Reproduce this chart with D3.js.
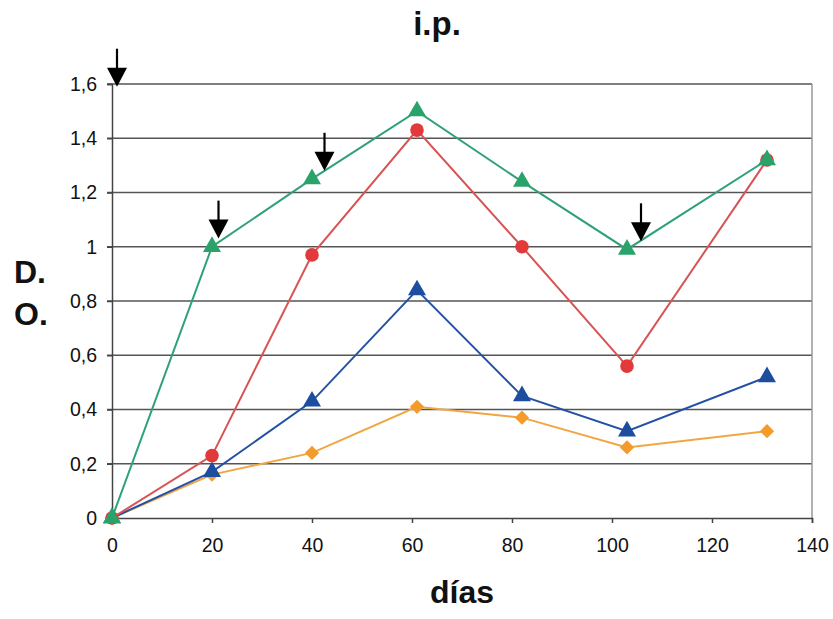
<!DOCTYPE html>
<html>
<head>
<meta charset="utf-8">
<script src="https://cdn.jsdelivr.net/npm/d3@7"></script>
<style>
  html, body { margin: 0; padding: 0; background: #fff; }
  svg { display: block; font-family: Arial, "Liberation Sans", sans-serif; }
</style>
</head>
<body>
<svg id="chart" width="833" height="619"></svg>
<script>
// Sampling days
const days = [0, 20, 40, 61, 82, 103, 131];

// D.O. readings per series
const greenValues  = [0, 1.00, 1.25, 1.50, 1.24, 0.99, 1.32];
const redValues    = [0, 0.23, 0.97, 1.43, 1.00, 0.56, 1.32];
const blueValues   = [0, 0.17, 0.43, 0.84, 0.45, 0.32, 0.52];
const orangeValues = [0, 0.16, 0.24, 0.41, 0.37, 0.26, 0.32];

// Axis ticks
const xTicks = [0, 20, 40, 60, 80, 100, 120, 140];
const yTicks = [0, 0.2, 0.4, 0.6, 0.8, 1.0, 1.2, 1.4, 1.6];

// Inoculation arrows (day, value at arrow tip)
const arrowDays = [1, 21.3, 42.5, 105.8];
const arrowTips = [1.59, 1.03, 1.28, 1.02];

const svg = d3.select("#chart");
const x = d3.scaleLinear().domain([0, 140]).range([112, 812]);
const y = d3.scaleLinear().domain([0, 1.6]).range([518, 84]);

const fmt = v => (v === 0 ? "0" : (Number.isInteger(v) ? String(v) : d3.format(".1f")(v).replace(".", ",")));

// Gridlines
svg.append("g")
  .selectAll("line")
  .data(yTicks.filter(v => v > 0))
  .join("line")
  .attr("x1", x(0) - 5).attr("x2", x(140))
  .attr("y1", d => y(d)).attr("y2", d => y(d))
  .attr("stroke", "#555").attr("stroke-width", 1.5);

// Right border of the plot area
svg.append("line")
  .attr("x1", x(140)).attr("x2", x(140))
  .attr("y1", y(1.6)).attr("y2", y(0))
  .attr("stroke", "#999").attr("stroke-width", 1.5);

// X axis
const xAxis = d3.axisBottom(x).tickValues(xTicks).tickSize(5).tickPadding(15).tickFormat(d => d);
const gx = svg.append("g").attr("transform", `translate(0,${y(0)})`).call(xAxis);
gx.select(".domain").attr("stroke", "#444").attr("stroke-width", 1.5);
gx.selectAll(".tick line").attr("stroke", "#444").attr("stroke-width", 1.5);
gx.selectAll("text").attr("font-size", 19.5).attr("fill", "#111")
  .attr("font-family", "Arial, 'Liberation Sans', sans-serif");

// Y axis
const yAxis = d3.axisLeft(y).tickValues(yTicks).tickSize(5).tickPadding(10).tickFormat(fmt);
const gy = svg.append("g").attr("transform", `translate(${x(0)},0)`).call(yAxis);
gy.select(".domain").attr("stroke", "#444").attr("stroke-width", 1.5);
gy.selectAll(".tick line").attr("stroke", "#444").attr("stroke-width", 1.5);
gy.selectAll("text").attr("font-size", 19.5).attr("fill", "#111")
  .attr("font-family", "Arial, 'Liberation Sans', sans-serif");

// Series
const series = [
  { values: orangeValues, line: "#f0a642", fill: "#f39c2c", shape: d3.symbolDiamond2, size: 130 },
  { values: blueValues,   line: "#2451a3", fill: "#1d4d9e", shape: d3.symbolTriangle, size: 140 },
  { values: redValues,    line: "#d85454", fill: "#e23a3a", shape: d3.symbolCircle, size: 145 },
  { values: greenValues,  line: "#2fa275", fill: "#2aa36b", shape: d3.symbolTriangle, size: 140 }
];

const line = d3.line().x(d => x(d[0])).y(d => y(d[1]));

series.forEach(s => {
  const pts = days.map((d, i) => [d, s.values[i]]);
  svg.append("path")
    .datum(pts)
    .attr("d", line)
    .attr("fill", "none")
    .attr("stroke", s.line)
    .attr("stroke-width", 2);
  svg.append("g")
    .selectAll("path")
    .data(pts)
    .join("path")
    .attr("transform", d => `translate(${x(d[0])},${y(d[1])})`)
    .attr("d", d3.symbol().type(s.shape).size(s.size))
    .attr("fill", s.fill);
});

// Arrows
const arrows = svg.append("g");
arrowDays.forEach((d, i) => {
  const ax = x(d), tip = y(arrowTips[i]);
  arrows.append("line")
    .attr("x1", ax).attr("x2", ax)
    .attr("y1", tip - 38).attr("y2", tip - 16)
    .attr("stroke", "#000").attr("stroke-width", 2.2);
  arrows.append("path")
    .attr("d", `M${ax - 10},${tip - 19} L${ax + 10},${tip - 19} L${ax},${tip} Z`)
    .attr("fill", "#000");
});

// Titles
svg.append("text")
  .attr("x", 437).attr("y", 35)
  .attr("text-anchor", "middle")
  .attr("font-size", 33).attr("font-weight", "bold").attr("fill", "#111")
  .text("i.p.");

svg.append("text")
  .attr("x", 462).attr("y", 603)
  .attr("text-anchor", "middle")
  .attr("font-size", 32).attr("font-weight", "bold").attr("fill", "#111")
  .text("días");

svg.append("text")
  .attr("x", 14).attr("y", 283)
  .attr("font-size", 32).attr("font-weight", "bold").attr("fill", "#111")
  .text("D.");

svg.append("text")
  .attr("x", 14).attr("y", 325)
  .attr("font-size", 32).attr("font-weight", "bold").attr("fill", "#111")
  .text("O.");
</script>
</body>
</html>
